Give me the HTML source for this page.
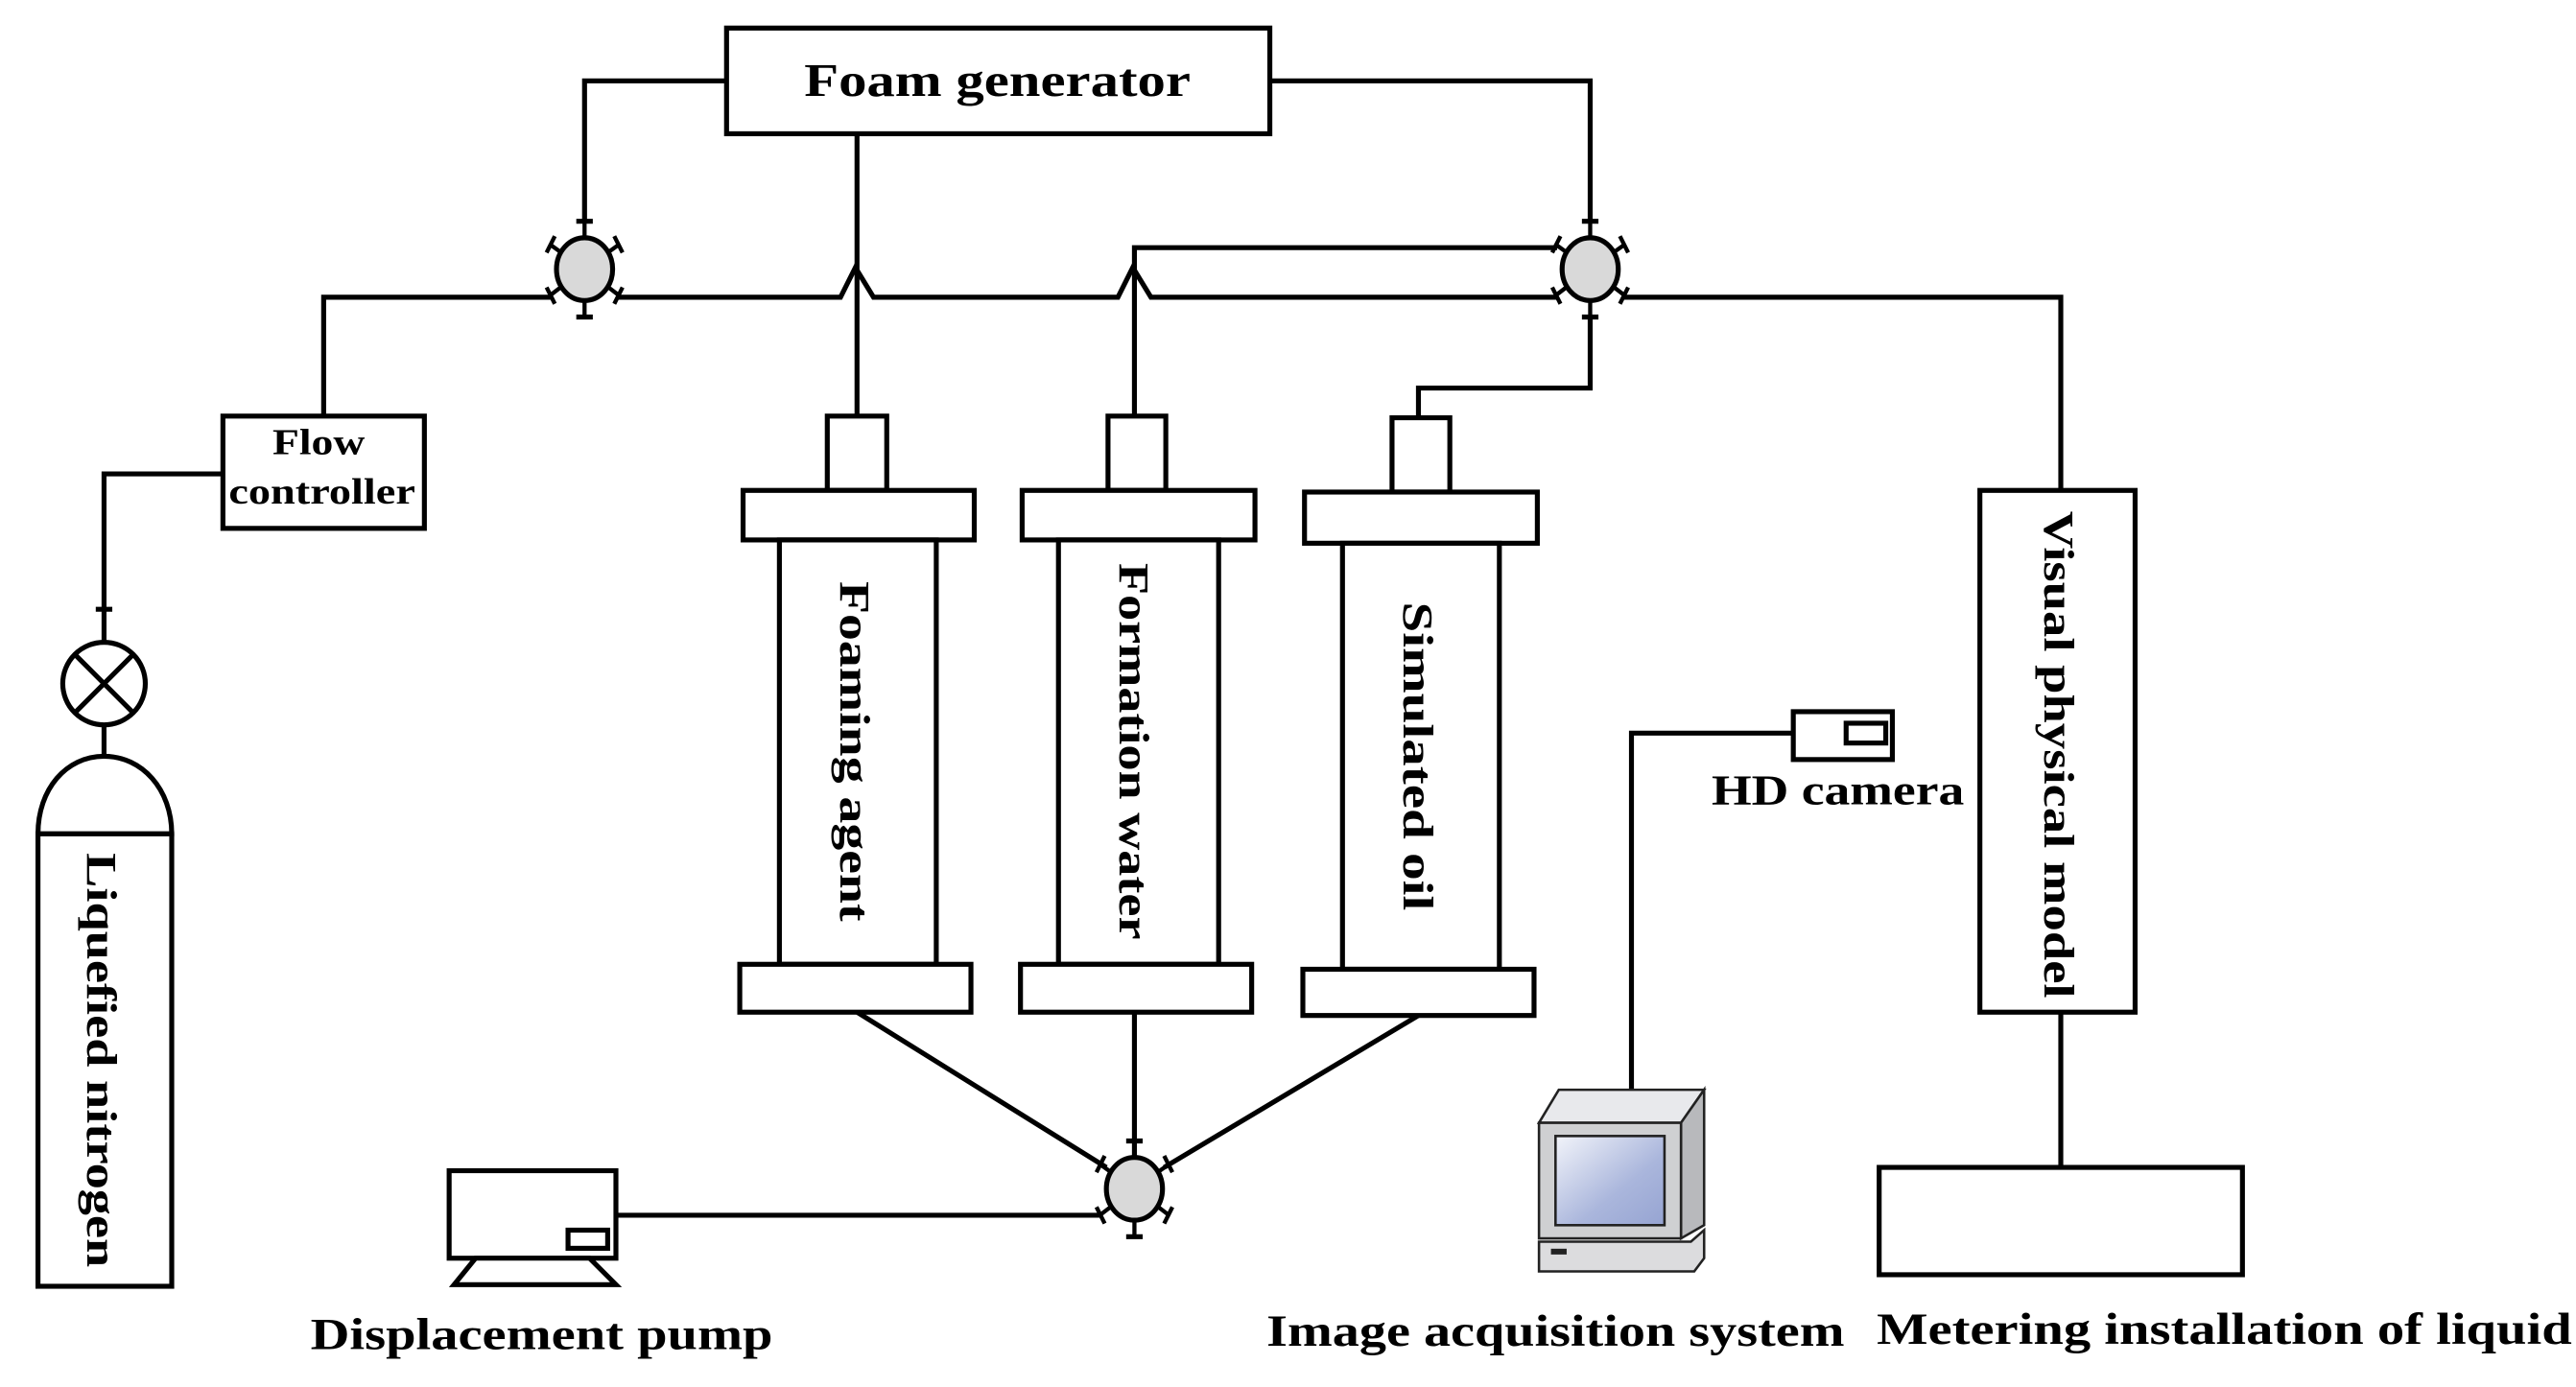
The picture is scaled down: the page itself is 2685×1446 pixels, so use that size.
<!DOCTYPE html>
<html><head><meta charset="utf-8"><style>html,body{margin:0;padding:0;background:#fff}svg{display:block}</style></head>
<body>
<svg width="2685" height="1446" viewBox="0 0 1560 840" preserveAspectRatio="none" xmlns="http://www.w3.org/2000/svg">
<defs>
<linearGradient id="scr" x1="0" y1="0" x2="1" y2="1"><stop offset="0" stop-color="#f2f4fa"/><stop offset="0.6" stop-color="#aab6dc"/><stop offset="1" stop-color="#96a4d2"/></linearGradient>
<g id="valve">
 <line x1="0" y1="-29" x2="0" y2="29" stroke="#000" stroke-width="2.5"/>
 <line x1="-5" y1="-29" x2="5" y2="-29" stroke="#000" stroke-width="3"/>
 <line x1="-5" y1="29" x2="5" y2="29" stroke="#000" stroke-width="3"/>
 <g stroke="#000" stroke-width="2.5">
  <line x1="0" y1="0" x2="-21" y2="-15"/><line x1="-23" y1="-10" x2="-18" y2="-20"/>
  <line x1="0" y1="0" x2="21" y2="-15"/><line x1="23" y1="-10" x2="18" y2="-20"/>
  <line x1="0" y1="0" x2="-21" y2="16"/><line x1="-23" y1="11" x2="-18" y2="21"/>
  <line x1="0" y1="0" x2="21" y2="16"/><line x1="23" y1="11" x2="18" y2="21"/>
 </g>
 <ellipse cx="0" cy="0" rx="17" ry="19" fill="#d9d9d9" stroke="#000" stroke-width="3"/>
</g>
</defs>
<g fill="none" stroke="#000" stroke-width="3">
 <rect x="440" y="17" width="329" height="64" fill="#fff"/>
 <polyline points="440,49 354,49 354,135"/>
 <polyline points="769,49 963,49 963,135"/>
 <line x1="519" y1="81" x2="519" y2="252"/>
 <polyline points="196,252 196,180 334,180"/>
 <polyline points="374,180 509,180 518,162 529,180 677,180 686,162 697,180 943,180"/>
 <polyline points="687,252 687,150 943,150"/>
 <polyline points="963,191 963,235 859,235 859,253"/>
 <polyline points="983,180 1248,180 1248,297"/>
 <rect x="135" y="252" width="122" height="68" fill="#fff"/>
 <polyline points="135,287 63,287 63,389"/>
 <line x1="58" y1="369" x2="68" y2="369"/>
 <circle cx="63" cy="414" r="25" fill="#fff"/>
 <line x1="45" y1="396" x2="81" y2="432"/><line x1="81" y1="396" x2="45" y2="432"/>
 <line x1="63" y1="439" x2="63" y2="458"/>
 <path d="M23,505 C23,478 40,458 63,458 C86,458 104,478 104,505 Z" fill="#fff"/>
 <rect x="23" y="505" width="81" height="274" fill="#fff"/>
 <rect x="501" y="252" width="36" height="45" fill="#fff"/>
 <rect x="450" y="297" width="140" height="30" fill="#fff"/>
 <rect x="472" y="327" width="95" height="257" fill="#fff"/>
 <rect x="448" y="584" width="140" height="29" fill="#fff"/>
 <rect x="671" y="252" width="35" height="45" fill="#fff"/>
 <rect x="619" y="297" width="141" height="30" fill="#fff"/>
 <rect x="641" y="327" width="97" height="257" fill="#fff"/>
 <rect x="618" y="584" width="140" height="29" fill="#fff"/>
 <rect x="843" y="253" width="35" height="45" fill="#fff"/>
 <rect x="790" y="298" width="141" height="31" fill="#fff"/>
 <rect x="813" y="329" width="95" height="258" fill="#fff"/>
 <rect x="789" y="587" width="140" height="28" fill="#fff"/>
 <line x1="519" y1="613" x2="670" y2="707"/>
 <line x1="687" y1="613" x2="687" y2="700"/>
 <line x1="859" y1="615" x2="705" y2="707"/>
 <line x1="373" y1="736" x2="667" y2="736"/>
 <rect x="272" y="709" width="101" height="53" fill="#fff"/>
 <rect x="344" y="745" width="24" height="11"/>
 <polygon points="288,762 357,762 373,778 275,778" fill="#fff"/>
 <rect x="1199" y="297" width="94" height="316" fill="#fff"/>
 <line x1="1248" y1="613" x2="1248" y2="707"/>
 <rect x="1138" y="707" width="220" height="65" fill="#fff"/>
 <rect x="1086" y="431" width="60" height="29" fill="#fff"/>
 <rect x="1118" y="438" width="24" height="12"/>
 <polyline points="1086,444 988,444 988,660"/>
</g>
<use href="#valve" x="354" y="163"/>
<use href="#valve" x="963" y="163"/>
<use href="#valve" x="687" y="720"/>
<g stroke="#222" stroke-width="1.5">
 <polygon points="932,680 944,660 1032,660 1018,680" fill="#e8e9ec"/>
 <polygon points="1018,680 1032,660 1032,742 1018,750" fill="#b8b9bc"/>
 <rect x="932" y="680" width="86" height="70" fill="#cfd0d2"/>
 <rect x="942" y="688" width="66" height="54" fill="url(#scr)"/>
 <polygon points="932,752 1024,752 1032,745 1032,762 1026,770 932,770" fill="#dcdcde"/>
 <rect x="940" y="757" width="8" height="2" fill="#222"/>
</g>
<g font-family="'Liberation Serif', serif" font-weight="bold" fill="#000">
 <text x="604" y="58" font-size="28" text-anchor="middle" textLength="234" lengthAdjust="spacingAndGlyphs">Foam generator</text>
 <text x="193" y="275" font-size="22" text-anchor="middle" textLength="56" lengthAdjust="spacingAndGlyphs">Flow</text>
 <text x="195" y="305" font-size="22" text-anchor="middle" textLength="113" lengthAdjust="spacingAndGlyphs">controller</text>
 <text transform="translate(509,455) rotate(90)" font-size="26" text-anchor="middle" textLength="206" lengthAdjust="spacingAndGlyphs">Foaming agent</text>
 <text transform="translate(678,455) rotate(90)" font-size="26" text-anchor="middle" textLength="228" lengthAdjust="spacingAndGlyphs">Formation water</text>
 <text transform="translate(850,458) rotate(90)" font-size="26" text-anchor="middle" textLength="187" lengthAdjust="spacingAndGlyphs">Simulated oil</text>
 <text transform="translate(1238,457) rotate(90)" font-size="26" text-anchor="middle" textLength="295" lengthAdjust="spacingAndGlyphs">Visual physical model</text>
 <text transform="translate(53,642) rotate(90)" font-size="26" text-anchor="middle" textLength="251" lengthAdjust="spacingAndGlyphs">Liquefied nitrogen</text>
 <text x="1113" y="487" font-size="26" text-anchor="middle" textLength="153" lengthAdjust="spacingAndGlyphs">HD camera</text>
 <text x="328" y="817" font-size="27" text-anchor="middle" textLength="280" lengthAdjust="spacingAndGlyphs">Displacement pump</text>
 <text x="942" y="815" font-size="27" text-anchor="middle" textLength="350" lengthAdjust="spacingAndGlyphs">Image acquisition system</text>
 <text x="1347" y="814" font-size="27" text-anchor="middle" textLength="421" lengthAdjust="spacingAndGlyphs">Metering installation of liquid</text>
</g>
</svg>
</body></html>
